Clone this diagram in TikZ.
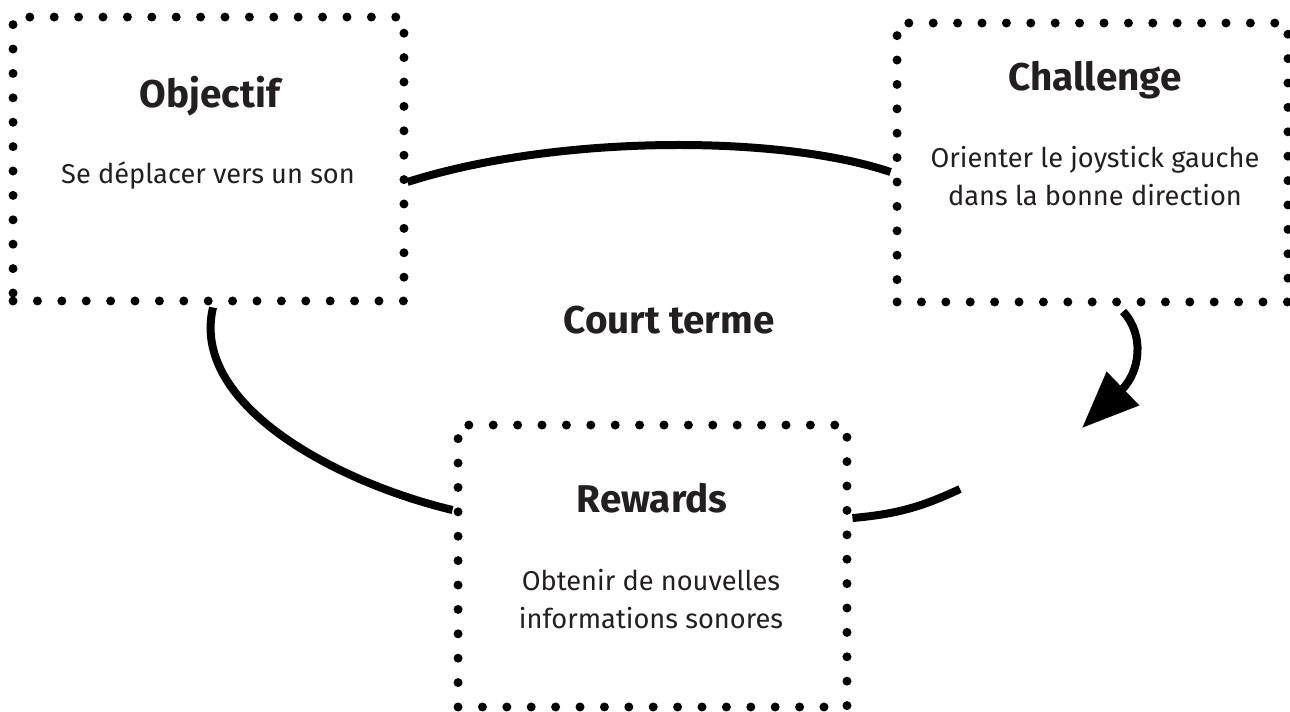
\documentclass[tikz,border=0pt]{standalone}
\usepackage{fontspec}
\setmainfont{Fira Sans}
\usetikzlibrary{arrows.meta}

\definecolor{encre}{HTML}{231F20}

\tikzset{
  boite/.style={draw, line width=0.18cm, dash pattern=on 0pt off 0.488cm,
    line cap=round, inner sep=0pt},
  titre/.style={text=encre, font=\fontsize{22}{26}\selectfont\bfseries, anchor=base},
  texte/.style={text=encre, font=\fontsize{15.5}{21.5}\selectfont, anchor=base, align=center},
  lien/.style={line width=0.16cm}
}

\begin{document}
\begin{tikzpicture}[x=0.02cm, y=-0.02cm]
\useasboundingbox (0,0) rectangle (1290,711);

%% les trois cadres en pointillés
\node[boite, minimum width=7.82cm, minimum height=5.68cm] (obj) at (208.5,159) {};
\node[boite, minimum width=7.82cm, minimum height=5.58cm] (chal) at (1092.5,162.5) {};
\node[boite, minimum width=7.78cm, minimum height=5.64cm] (rew) at (652.5,566) {};

%% les textes (base = dernière ligne)
\node[titre] (objtitre) at (210,107) {Objectif};
\node[texte] (objtexte) at (208,183) {Se déplacer vers un son};
\node[titre] (chaltitre) at (1095,90) {Challenge};
\node[texte] (chaltexte) at (1095,205) {Orienter le joystick gauche\\dans la bonne direction};
\node[titre] (rewtitre) at (652,512) {Rewards};
\node[texte] (rewtexte) at (651,628) {Obtenir de nouvelles\\informations sonores};
\node[titre] (court) at (669,333) {Court terme};

%% les liens
\draw[lien] ([xshift=-0.02cm,yshift=-0.46cm]obj.east) .. controls +(147,-47) and +(-113,-38) .. ([xshift=-0.04cm,yshift=-0.19cm]chal.west);
\draw[lien] ([xshift=0.09cm,yshift=-0.04cm]obj.south) .. controls +(-23,97) and +(-117,-28) .. ([xshift=-0.02cm,yshift=1.12cm]rew.west);
\coordinate (coupure) at (960,489);
\draw[lien] ([xshift=0.02cm,yshift=0.96cm]rew.east) to[bend right=10] (coupure);
\coordinate (pointe) at (1082,428);
\draw[lien, -{Triangle[length=1.14cm, width=0.9cm]}] ([xshift=0.61cm,yshift=-0.1cm]chal.south) .. controls (1145,335) and (1140,372) .. (pointe);

\end{tikzpicture}
\end{document}
